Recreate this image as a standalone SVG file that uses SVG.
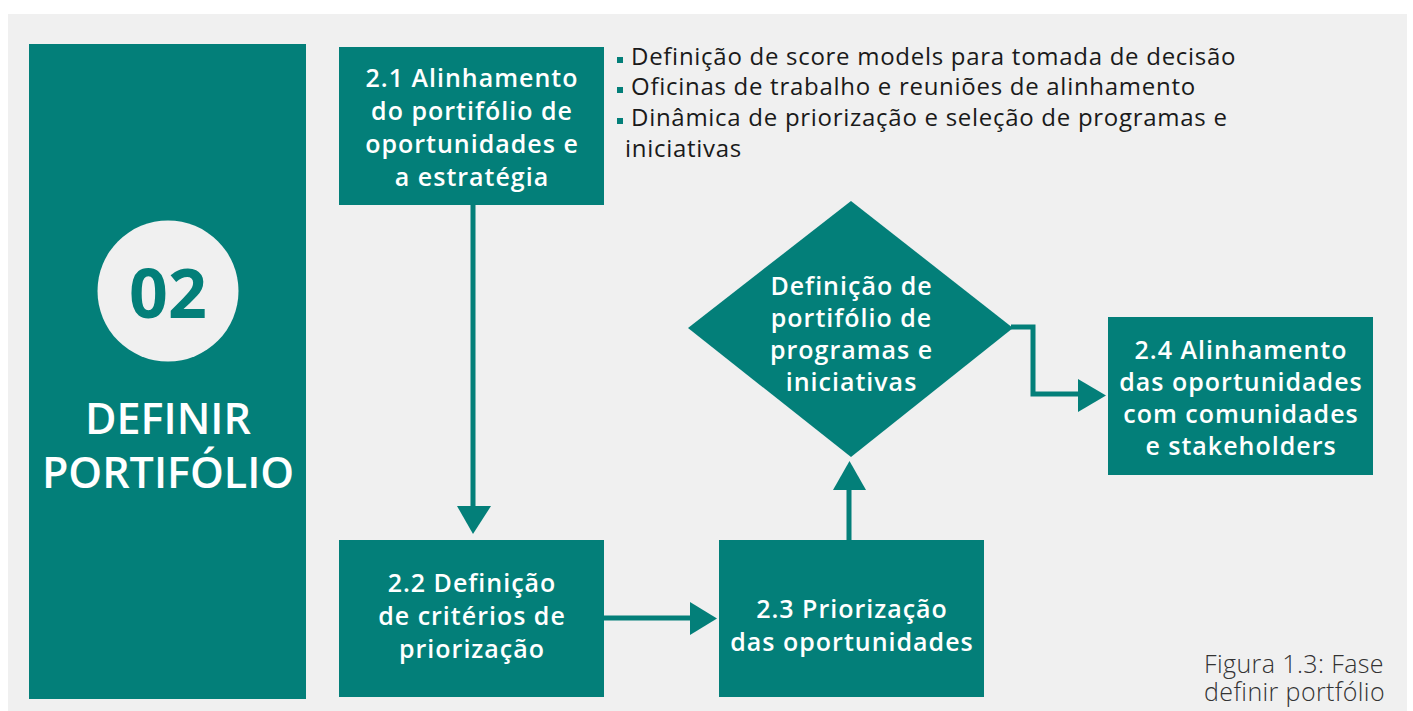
<svg xmlns="http://www.w3.org/2000/svg" width="1413" height="711" viewBox="0 0 1413 711">
<style>
.n{fill:#037f79}
.t{font-family:"Open Sans","Noto Sans",sans-serif;font-weight:600;font-size:25px;letter-spacing:1px;fill:#ffffff;text-anchor:middle}
.b{font-family:"Open Sans","Noto Sans",sans-serif;font-weight:400;font-size:24px;letter-spacing:0.72px;fill:#1a1a1a}
.c{font-family:"Open Sans","Noto Sans",sans-serif;font-weight:300;font-size:25px;letter-spacing:0.4px;fill:#333333;text-anchor:end}
.h{font-family:"Open Sans","Noto Sans",sans-serif;font-weight:600;font-size:43px;fill:#ffffff;text-anchor:middle}
.ln{stroke:#037f79;stroke-width:5;fill:none}
.ah{fill:#037f79}
</style>
<rect x="0" y="0" width="1413" height="711" fill="#ffffff"/>
<rect x="8" y="14" width="1399" height="697" fill="#f0f0f0"/>

<g id="phase">
<rect class="n" x="29" y="44" width="277" height="655"/>
<circle cx="168" cy="291" r="70.5" fill="#f0f0f0"/>
<text x="168" y="318" font-family="'Open Sans','Noto Sans',sans-serif" font-weight="700" font-size="68" fill="#037f79" text-anchor="middle">02</text>
<text class="h" x="168" y="434">DEFINIR</text>
<text class="h" x="168" y="488">PORTIFÓLIO</text>
</g>

<g id="n21">
<rect class="n" x="339" y="47" width="265" height="158"/>
<text class="t" x="472" y="87">2.1 Alinhamento</text>
<text class="t" x="472" y="120">do portifólio de</text>
<text class="t" x="472" y="153">oportunidades e</text>
<text class="t" x="472" y="186">a estratégia</text>
</g>

<g id="notes">
<rect class="n" x="617" y="57" width="6" height="6"/>
<rect class="n" x="617" y="87" width="6" height="6"/>
<rect class="n" x="617" y="118" width="6" height="6"/>
<text class="b" x="631" y="65">Definição de score models para tomada de decisão</text>
<text class="b" x="631" y="95">Oficinas de trabalho e reuniões de alinhamento</text>
<text class="b" x="631" y="126">Dinâmica de priorização e seleção de programas e</text>
<text class="b" x="625" y="157">iniciativas</text>
</g>

<g id="n22">
<rect class="n" x="339" y="540" width="265" height="157"/>
<text class="t" x="472" y="592">2.2 Definição</text>
<text class="t" x="472" y="625">de critérios de</text>
<text class="t" x="472" y="658">priorização</text>
</g>

<g id="n23">
<rect class="n" x="719" y="540" width="265" height="157"/>
<text class="t" x="852" y="618">2.3 Priorização</text>
<text class="t" x="852" y="651">das oportunidades</text>
</g>

<g id="decision">
<polygon class="n" points="851,201 1013,328 851,457 688,328"/>
<text class="t" x="851.5" y="295">Definição de</text>
<text class="t" x="851.5" y="327">portifólio de</text>
<text class="t" x="851.5" y="359">programas e</text>
<text class="t" x="851.5" y="391">iniciativas</text>
</g>

<g id="n24">
<rect class="n" x="1108" y="317" width="265" height="158"/>
<text class="t" x="1241" y="359">2.4 Alinhamento</text>
<text class="t" x="1241" y="391">das oportunidades</text>
<text class="t" x="1241" y="423">com comunidades</text>
<text class="t" x="1241" y="455">e stakeholders</text>
</g>

<g id="connectors">
<line class="ln" x1="473" y1="205" x2="473" y2="508"/>
<polygon class="ah" points="457,506 491,506 473,534"/>
<line class="ln" x1="604" y1="618" x2="692" y2="618"/>
<polygon class="ah" points="690,602 690,635 717,618.5"/>
<line class="ln" x1="849" y1="540" x2="849" y2="488"/>
<polygon class="ah" points="833,490 866,490 849.5,461"/>
<polyline class="ln" points="1011,327 1033,327 1033,394 1080,394"/>
<polygon class="ah" points="1078,379 1078,412 1106,395.5"/>
</g>

<g id="caption">
<text class="c"><tspan x="1384" y="673">Figura 1.3: Fase</tspan><tspan x="1385" y="701">definir portfólio</tspan></text>
</g>
</svg>
